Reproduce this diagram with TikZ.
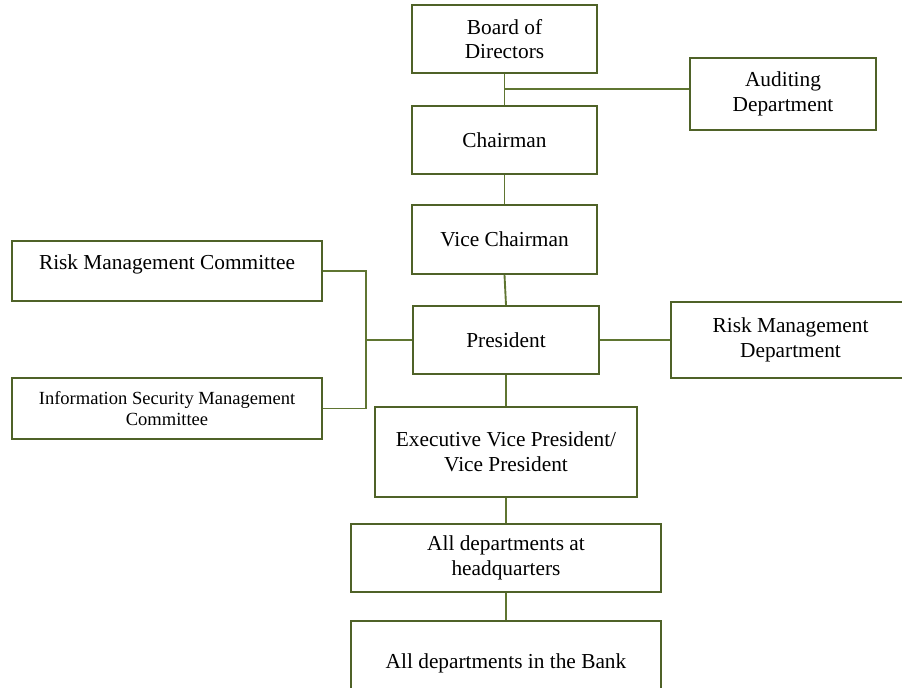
\documentclass[tikz,border=0pt]{standalone}
\usepackage{fontspec}
\setmainfont{Liberation Serif}
\definecolor{boxc}{HTML}{4F6228}
\definecolor{linec}{HTML}{5F7531}
\begin{document}
\begin{tikzpicture}[x=0.75pt,y=-0.75pt,
  orgbox/.style={draw=boxc, line width=1.5pt, fill=white, inner sep=0pt, align=center,
    font=\fontsize{16}{18.4}\selectfont},
  sz/.style 2 args={minimum width=#1*0.75pt, minimum height=#2*0.75pt},
  conn/.style={draw=linec, line width=1.4pt}]
\useasboundingbox (0,0) rectangle (902,687);
\clip (0,0) rectangle (902,687);
\node[orgbox, sz={185}{68}] (board) at (504.5,39) {Board of\\Directors};
\node[orgbox, sz={186}{72}] (audit) at (783,94) {Auditing\\Department};
\node[orgbox, sz={185}{68}] (chair) at (504.5,140) {Chairman};
\node[orgbox, sz={185}{69}] (vice) at (504.5,239.5) {Vice Chairman};
\node[orgbox, sz={186}{68}] (pres) at (506,340) {President};
\node[orgbox, sz={239}{76}] (rmd) at (790.5,340) {Risk Management\\Department};
\node[orgbox, sz={310}{60}, text depth=14pt] (rmc) at (167,271) {Risk Management Committee};
\node[orgbox, sz={310}{61}, font=\fontsize{13.9}{15.8}\selectfont] (ismc) at (167,408.5) {Information Security Management\\Committee};
\node[orgbox, sz={262}{90}] (evp) at (506,452) {Executive Vice President/\\Vice President};
\node[orgbox, sz={310}{68}] (hq) at (506,558) {All departments at\\headquarters};
\node[orgbox, sz={310}{84}] (bank) at (506,663) {All departments in the Bank};
\coordinate (ja) at (504.7,89.3);
\coordinate (bus) at (366,340);
\draw[conn] (board.south) -- (chair.north);
\draw[conn] (ja) -- (ja -| audit.west);
\draw[conn] (chair.south) -- (vice.north);
\draw[conn] (vice.south) -- (pres.north);
\draw[conn] (pres.east) -- (rmd.west);
\draw[conn] (rmc.east) -| (bus) |- (ismc.east);
\draw[conn] (bus) -- (pres.west);
\draw[conn] (pres.south) -- (evp.north);
\draw[conn] (evp.south) -- (hq.north);
\draw[conn] (hq.south) -- (bank.north);
\end{tikzpicture}
\end{document}
